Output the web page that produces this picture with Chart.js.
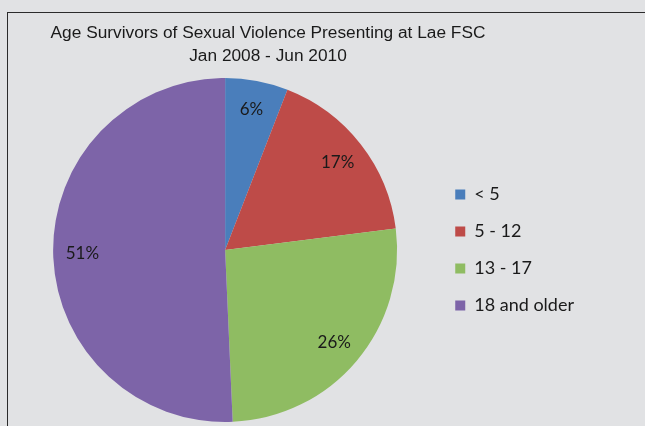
<!DOCTYPE html>
<html>
<head>
<meta charset="utf-8">
<script src="https://cdn.jsdelivr.net/npm/chart.js@4"></script>
<style>
  html, body { margin: 0; padding: 0; background: #e1e2e4; overflow: hidden; }
  #wrap { width: 645px; height: 426px; overflow: hidden; position: relative; }
  /* the original chart is wider than the crop, so the canvas sticks out on the left */
  #agePie { position: absolute; left: -48px; top: 0; }
</style>
</head>
<body>
<div id="wrap"><canvas id="agePie" width="693" height="426"></canvas></div>
<script>
// ================= DATA =================
const titleLines = ["Age Survivors of Sexual Violence Presenting at Lae FSC", "Jan 2008 - Jun 2010"];
const ageGroups = ["< 5", "5 - 12", "13 - 17", "18 and older"];
const sharePct = [5.9, 17.1, 26.3, 50.7];
const sliceColors = ["#4a7ebb", "#be4b48", "#8fbc62", "#7d64a8"];

const CROP_X = 48; // canvas px hidden left of the window

// ================= PLUGINS =================
const frameBg = {
  id: "frameBg",
  beforeDraw(chart) {
    const c = chart.ctx;
    c.save();
    c.fillStyle = "#e1e2e4";
    c.fillRect(0, 0, chart.width, chart.height);
    c.strokeStyle = "#2b2b2b";
    c.lineWidth = 1;
    c.strokeRect(CROP_X + 7.5, 12.5, chart.width, chart.height);
    c.restore();
  }
};

// empty box on the left so the pie sits left of the title centre
const leftSpacer = {
  id: "leftSpacer",
  beforeInit(chart) {
    Chart.layouts.addBox(chart, {
      position: "left",
      weight: 0,
      fullSize: false,
      options: {},
      left: 0, top: 0, right: 0, bottom: 0, width: 0, height: 0,
      isHorizontal() { return false; },
      update(maxWidth, maxHeight) {
        this.width = 62;
        this.height = maxHeight;
      },
      draw() {}
    });
  }
};

const sliceLabels = {
  id: "sliceLabels",
  afterDatasetsDraw(chart) {
    const c = chart.ctx;
    const meta = chart.getDatasetMeta(0);
    c.save();
    c.font = "17px Lato";
    c.fillStyle = "#1a1a1a";
    c.textAlign = "center";
    c.textBaseline = "middle";
    meta.data.forEach((arc, i) => {
      const p = arc.getProps(["x", "y", "startAngle", "endAngle", "outerRadius"], true);
      const mid = (p.startAngle + p.endAngle) / 2;
      const r = p.outerRadius * 0.83;
      c.fillText(Math.round(sharePct[i]) + "%", p.x + Math.cos(mid) * r, p.y + Math.sin(mid) * r);
    });
    c.restore();
  }
};

// ================= CHART =================
new Chart(document.getElementById("agePie"), {
  type: "pie",
  data: {
    labels: ageGroups,
    datasets: [{
      data: sharePct,
      backgroundColor: sliceColors,
      borderWidth: 0
    }]
  },
  options: {
    responsive: false,
    animation: false,
    layout: { padding: { left: 0, right: 61, top: 0, bottom: 4 } },
    plugins: {
      title: {
        display: true,
        text: titleLines,
        color: "#1a1a1a",
        font: { family: "Liberation Sans", size: 17.3, weight: "normal", lineHeight: 1.33 },
        padding: { top: 22, bottom: 10 }
      },
      legend: {
        position: "right",
        align: "center",
        fullSize: false,
        labels: {
          color: "#1a1a1a",
          font: { family: "Lato", size: 18 },
          boxWidth: 10,
          boxHeight: 10,
          padding: 19
        }
      },
      tooltip: { enabled: false }
    }
  },
  plugins: [frameBg, leftSpacer, sliceLabels]
});
</script>
</body>
</html>
